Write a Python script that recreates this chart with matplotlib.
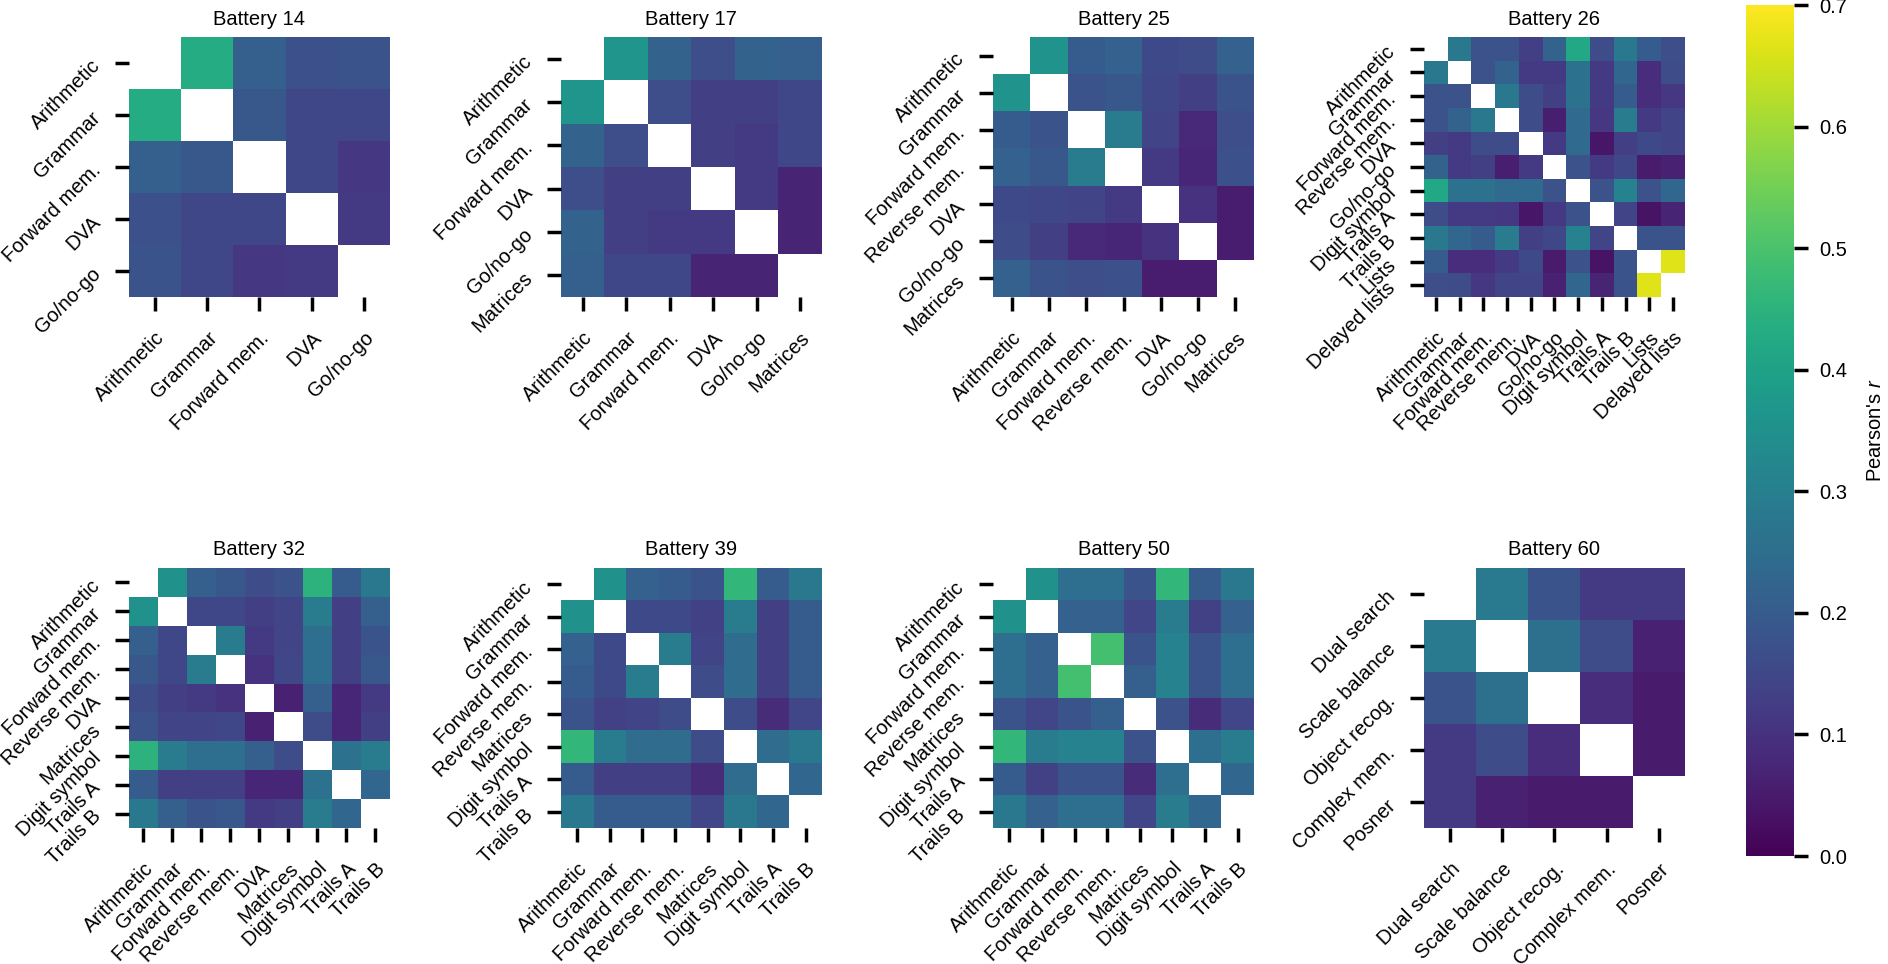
import matplotlib
matplotlib.use("Agg")
import matplotlib.pyplot as plt
import numpy as np
import seaborn as sns

plt.rcParams['font.family'] = ['Liberation Sans', 'DejaVu Sans']
plt.rcParams['mathtext.fontset'] = 'custom'
plt.rcParams['mathtext.it'] = 'Liberation Sans:italic'
plt.rcParams['mathtext.rm'] = 'Liberation Sans'

# task names per battery
tasks_14 = ['Arithmetic', 'Grammar', 'Forward mem.', 'DVA', 'Go/no-go']
tasks_17 = ['Arithmetic', 'Grammar', 'Forward mem.', 'DVA', 'Go/no-go', 'Matrices']
tasks_25 = ['Arithmetic', 'Grammar', 'Forward mem.', 'Reverse mem.', 'DVA',
            'Go/no-go', 'Matrices']
tasks_26 = ['Arithmetic', 'Grammar', 'Forward mem.', 'Reverse mem.', 'DVA',
            'Go/no-go', 'Digit symbol', 'Trails A', 'Trails B', 'Lists',
            'Delayed lists']
tasks_32 = ['Arithmetic', 'Grammar', 'Forward mem.', 'Reverse mem.', 'DVA',
            'Matrices', 'Digit symbol', 'Trails A', 'Trails B']
tasks_39 = ['Arithmetic', 'Grammar', 'Forward mem.', 'Reverse mem.',
            'Matrices', 'Digit symbol', 'Trails A', 'Trails B']
tasks_50 = list(tasks_39)
tasks_60 = ['Dual search', 'Scale balance', 'Object recog.', 'Complex mem.',
            'Posner']

# lower triangles of the correlation matrices (row i holds r with tasks 0..i-1)
r_14 = [[0.43],
        [0.21, 0.19],
        [0.17, 0.15, 0.15],
        [0.18, 0.15, 0.11, 0.12]]
r_17 = [[0.365],
        [0.22, 0.165],
        [0.165, 0.13, 0.13],
        [0.22, 0.13, 0.12, 0.115],
        [0.21, 0.15, 0.15, 0.07, 0.07]]
r_25 = [[0.36],
        [0.20, 0.18],
        [0.215, 0.19, 0.29],
        [0.155, 0.15, 0.14, 0.12],
        [0.16, 0.13, 0.08, 0.075, 0.10],
        [0.215, 0.18, 0.165, 0.17, 0.055, 0.055]]
r_26 = [[0.28],
        [0.175, 0.175],
        [0.175, 0.22, 0.28],
        [0.13, 0.12, 0.16, 0.16],
        [0.22, 0.12, 0.13, 0.06, 0.12],
        [0.42, 0.26, 0.26, 0.24, 0.24, 0.175],
        [0.16, 0.115, 0.115, 0.11, 0.04, 0.12, 0.175],
        [0.28, 0.23, 0.20, 0.29, 0.13, 0.15, 0.31, 0.14],
        [0.20, 0.09, 0.09, 0.12, 0.155, 0.05, 0.175, 0.035, 0.18],
        [0.165, 0.16, 0.11, 0.14, 0.14, 0.065, 0.23, 0.07, 0.18, 0.665]]
r_32 = [[0.35],
        [0.21, 0.15],
        [0.19, 0.15, 0.29],
        [0.16, 0.13, 0.12, 0.10],
        [0.175, 0.14, 0.14, 0.15, 0.065],
        [0.45, 0.29, 0.25, 0.25, 0.21, 0.16],
        [0.20, 0.13, 0.13, 0.13, 0.075, 0.075, 0.26],
        [0.28, 0.21, 0.18, 0.19, 0.12, 0.13, 0.29, 0.23]]
r_39 = [[0.35],
        [0.215, 0.155],
        [0.20, 0.155, 0.29],
        [0.18, 0.135, 0.14, 0.16],
        [0.46, 0.29, 0.245, 0.245, 0.16],
        [0.20, 0.13, 0.13, 0.13, 0.085, 0.245],
        [0.28, 0.20, 0.20, 0.20, 0.145, 0.28, 0.23]]
r_50 = [[0.35],
        [0.25, 0.215],
        [0.25, 0.215, 0.49],
        [0.18, 0.145, 0.18, 0.21],
        [0.46, 0.29, 0.31, 0.31, 0.175],
        [0.20, 0.135, 0.18, 0.18, 0.085, 0.25],
        [0.28, 0.215, 0.25, 0.25, 0.145, 0.29, 0.23]]
r_60 = [[0.285],
        [0.18, 0.255],
        [0.12, 0.16, 0.09],
        [0.12, 0.065, 0.05, 0.05]]

batteries = [('Battery 14', tasks_14, r_14), ('Battery 17', tasks_17, r_17),
             ('Battery 25', tasks_25, r_25), ('Battery 26', tasks_26, r_26),
             ('Battery 32', tasks_32, r_32), ('Battery 39', tasks_39, r_39),
             ('Battery 50', tasks_50, r_50), ('Battery 60', tasks_60, r_60)]


def full_matrix(lower):
    n = len(lower) + 1
    m = np.full((n, n), np.nan)
    for i, row in enumerate(lower, start=1):
        for j, v in enumerate(row):
            m[i, j] = v
            m[j, i] = v
    return m


fs = 14.5
fig = plt.figure(figsize=(18.88, 9.64), dpi=100)

lefts = [0.0683, 0.2971, 0.5260, 0.7542]
bottoms = [0.6919, 0.1411]
w, h = 0.1382, 0.2697

mesh = None
for k, (title, tasks, lower) in enumerate(batteries):
    ax = fig.add_axes([lefts[k % 4], bottoms[k // 4], w, h])
    sns.heatmap(full_matrix(lower), ax=ax, cmap='viridis', vmin=0, vmax=0.7,
                cbar=False, xticklabels=tasks, yticklabels=tasks)
    mesh = ax.collections[0]
    ax.set_title(title, fontsize=fs, pad=9)
    ax.set_xticklabels(tasks, rotation=45, ha='right', va='top',
                       rotation_mode='anchor', fontsize=fs)
    ax.set_yticklabels(tasks, rotation=45, ha='right', va='center',
                       rotation_mode='anchor', fontsize=fs)
    ax.tick_params(length=10, width=2.5, pad=12.5)

cax = fig.add_axes([0.9248, 0.112, 0.0254, 0.8827])
cbar = fig.colorbar(mesh, cax=cax)
cbar.outline.set_visible(False)
cbar.set_ticks(np.arange(0, 0.71, 0.1))
cbar.ax.set_yticklabels([f'{t:.1f}' for t in np.arange(0, 0.71, 0.1)], fontsize=fs)
cbar.ax.tick_params(length=10, width=2.5, pad=8)
cbar.set_label("Pearson's $r$", fontsize=fs, labelpad=14)

fig.savefig('out.png', dpi=100)
